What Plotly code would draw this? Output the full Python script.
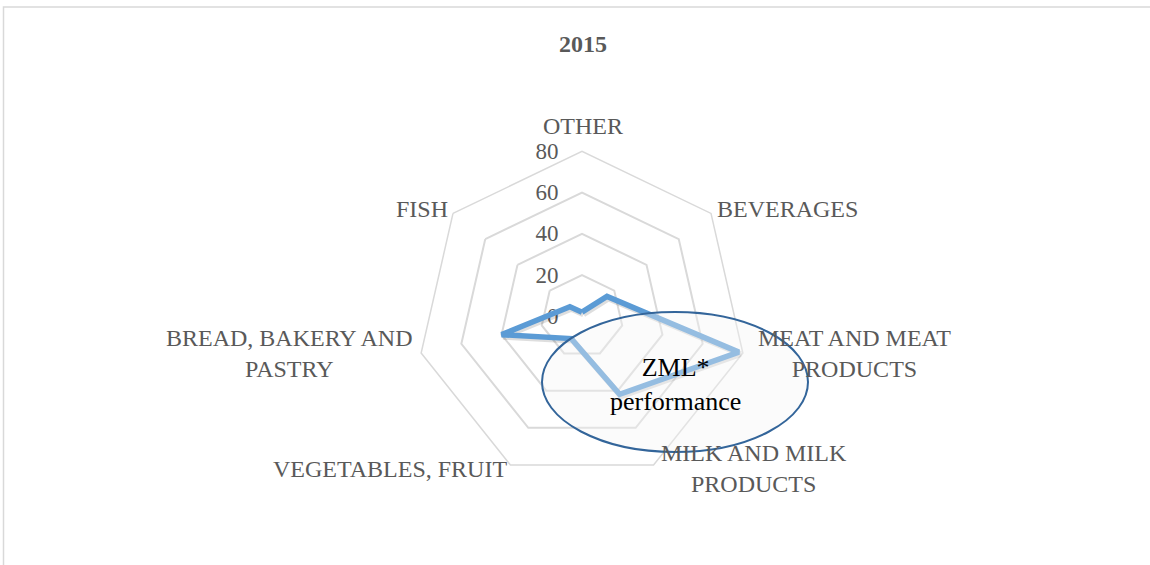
import plotly.graph_objects as go

W, H = 1150, 565

categories = ["OTHER", "BEVERAGES", "MEAT AND MEAT PRODUCTS", "MILK AND MILK PRODUCTS",
              "VEGETABLES, FRUIT", "BREAD, BAKERY AND PASTRY", "FISH"]
label_text = ["OTHER", "BEVERAGES", "MEAT AND MEAT<br>PRODUCTS", "MILK AND MILK<br>PRODUCTS",
              "VEGETABLES, FRUIT", "BREAD, BAKERY AND<br>PASTRY", "FISH"]
values_2015 = [2, 15.5, 78, 42, 12, 40, 7.5]
radial_ticks = [0, 20, 40, 60, 80]

# label centre positions in pixels (layout only)
label_pos = [(583, 126), (787, 209), (854, 353), (754, 468),
             (390, 469), (289, 353), (422, 209)]

def px(x):
    return x / W

def py(y):
    return 1 - y / H

FONT = "Liberation Serif, Times New Roman, serif"
GREY = "#595959"
GRID = "#d9d9d9"

cx, cy, R = 582, 316.3, 165

def domain(dx=0, dy=0):
    return dict(x=[px(cx - R + dx), px(cx + R + dx)], y=[py(cy + R + dy), py(cy - R + dy)])

hidden_angular = dict(rotation=90, direction="clockwise", showticklabels=False,
                      showgrid=False, showline=False, ticks="")
hidden_radial = dict(range=[0, 80], showticklabels=False, showgrid=False,
                     showline=False, ticks="")

r_closed = values_2015 + [values_2015[0]]
theta_closed = categories + [categories[0]]

fig = go.Figure()
# grid-only subplot
fig.add_trace(go.Scatterpolar(r=[], theta=[], subplot="polar", showlegend=False))
# soft shadow of the series
fig.add_trace(go.Scatterpolar(
    r=r_closed, theta=theta_closed, subplot="polar2", mode="lines",
    line=dict(color="rgba(0,0,0,0.13)", width=6), showlegend=False, hoverinfo="skip"))
# main series
fig.add_trace(go.Scatterpolar(
    r=r_closed, theta=theta_closed, subplot="polar3", mode="lines",
    line=dict(color="#5B9BD5", width=5.5), showlegend=False, hoverinfo="skip"))

fig.update_layout(
    width=W, height=H,
    margin=dict(l=0, r=0, t=0, b=0),
    paper_bgcolor="white",
    showlegend=False,
    font=dict(family=FONT, color=GREY, size=24),
    polar=dict(
        domain=domain(),
        bgcolor="rgba(0,0,0,0)",
        gridshape="linear",
        angularaxis=dict(
            type="category", categoryarray=categories,
            rotation=90, direction="clockwise",
            showticklabels=False, showgrid=False, ticks="",
            showline=True, linecolor=GRID, linewidth=1.5,
        ),
        radialaxis=dict(
            range=[0, 80], tickvals=radial_ticks, angle=90, side="counterclockwise",
            showline=False, showgrid=True, gridcolor=GRID, gridwidth=1.5,
            ticks="outside", ticklen=15, tickcolor="rgba(0,0,0,0)",
            tickfont=dict(family=FONT, size=23, color=GREY), tickangle=90,
        ),
    ),
    polar2=dict(domain=domain(1.5, 2), bgcolor="rgba(0,0,0,0)", gridshape="linear",
                angularaxis=hidden_angular, radialaxis=hidden_radial),
    polar3=dict(domain=domain(), bgcolor="rgba(0,0,0,0)", gridshape="linear",
                angularaxis=hidden_angular, radialaxis=hidden_radial),
)

annotations = [dict(
    text="<b>2015</b>", x=px(583), y=py(44), xref="paper", yref="paper",
    showarrow=False, xanchor="center", yanchor="middle",
    font=dict(family=FONT, size=24, color=GREY))]
for txt, (lx, ly) in zip(label_text, label_pos):
    annotations.append(dict(
        text=txt, x=px(lx), y=py(ly), xref="paper", yref="paper",
        showarrow=False, xanchor="center", yanchor="middle", align="center",
        font=dict(family=FONT, size=24, color=GREY)))
annotations.append(dict(
    text="ZML*<br>performance", x=px(675), y=py(384), xref="paper", yref="paper",
    showarrow=False, xanchor="center", yanchor="middle", align="center",
    font=dict(family=FONT, size=26, color="black")))
fig.update_layout(annotations=annotations)

fig.update_layout(shapes=[
    dict(type="circle", xref="paper", yref="paper",
         x0=px(542), x1=px(808), y0=py(452), y1=py(312),
         fillcolor="rgba(244,244,244,0.38)", line=dict(color="#33659A", width=2),
         layer="above"),
    dict(type="rect", xref="paper", yref="paper",
         x0=px(3.5), x1=1.2, y0=-0.2, y1=py(7),
         line=dict(color=GRID, width=1.5), fillcolor="rgba(0,0,0,0)",
         layer="below"),
])

fig.write_html("out.html", config={"displayModeBar": False},
               post_script="document.body.style.margin='0px';")
